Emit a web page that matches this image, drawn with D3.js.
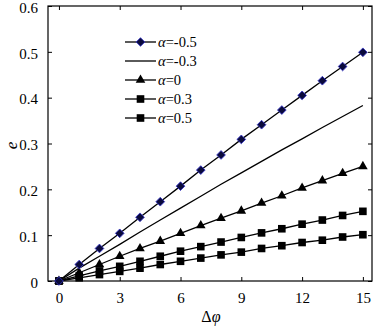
<!DOCTYPE html>
<html>
<head>
<meta charset="utf-8">
<script src="https://cdn.jsdelivr.net/npm/d3@7"></script>
<style>
  body { margin: 0; background: #fff; }
  svg text { font-family: "Liberation Serif", "Times New Roman", Times, serif; fill: #000; }
</style>
</head>
<body>
<div id="chart"></div>
<script>
// data
const dphi = [0, 1, 2, 3, 4, 5, 6, 7, 8, 9, 10, 11, 12, 13, 14, 15];
const eNeg05 = [0, 0.036, 0.071, 0.104, 0.139, 0.173, 0.207, 0.242, 0.275, 0.309, 0.341, 0.373, 0.405, 0.437, 0.468, 0.499];
const eNeg03 = [0, 0.028, 0.054, 0.080, 0.107, 0.133, 0.159, 0.185, 0.211, 0.236, 0.261, 0.286, 0.310, 0.335, 0.359, 0.383];
const eZero = [0, 0.018, 0.036, 0.054, 0.071, 0.087, 0.104, 0.121, 0.137, 0.153, 0.170, 0.186, 0.203, 0.219, 0.235, 0.250];
const ePos03 = [0, 0.011, 0.022, 0.032, 0.043, 0.054, 0.065, 0.075, 0.085, 0.095, 0.105, 0.114, 0.124, 0.133, 0.143, 0.152];
const ePos05 = [0, 0.007, 0.014, 0.021, 0.028, 0.036, 0.043, 0.050, 0.057, 0.063, 0.071, 0.077, 0.084, 0.089, 0.096, 0.101];
const seriesNames = ["-0.5", "-0.3", "0", "0.3", "0.5"];
const xTicks = [0, 3, 6, 9, 12, 15];
const yTicks = [0, 0.1, 0.2, 0.3, 0.4, 0.5, 0.6];

const width = 378;
const height = 326;
const margin = {top: 6, left: 48, right: 6, bottom: 45};

const svg = d3.select("#chart").append("svg")
    .attr("width", width)
    .attr("height", height);

const x = d3.scaleLinear()
    .domain([-0.54, 15.45])
    .range([margin.left, width - margin.right]);

const y = d3.scaleLinear()
    .domain([0, 0.6])
    .range([height - margin.bottom, margin.top]);

const plotW = width - margin.left - margin.right;
const plotH = height - margin.top - margin.bottom;

// frame
svg.append("rect")
    .attr("x", margin.left)
    .attr("y", margin.top)
    .attr("width", plotW)
    .attr("height", plotH)
    .attr("fill", "none")
    .attr("stroke", "#000")
    .attr("stroke-width", 1.2);

// axes, ticks pointing inward
const bottom = svg.append("g")
    .attr("transform", `translate(0,${height - margin.bottom})`)
    .call(d3.axisBottom(x).tickValues(xTicks).tickSizeInner(-4).tickSizeOuter(0).tickPadding(11));
const left = svg.append("g")
    .attr("transform", `translate(${margin.left},0)`)
    .call(d3.axisLeft(y).tickValues(yTicks).tickSizeInner(-4).tickSizeOuter(0).tickPadding(10)
        .tickFormat(d => d === 0 ? "0" : d3.format(".1f")(d)));
svg.append("g")
    .attr("transform", `translate(${width - margin.right},0)`)
    .call(d3.axisRight(y).tickValues(yTicks).tickSizeInner(-4).tickSizeOuter(0).tickFormat(""));
svg.append("g")
    .attr("transform", `translate(0,${margin.top})`)
    .call(d3.axisTop(x).tickValues(xTicks).tickSizeInner(-4).tickSizeOuter(0).tickFormat(""));

svg.selectAll(".domain").remove();
svg.selectAll(".tick line").attr("stroke", "#000");
bottom.selectAll("text").attr("font-size", 15);
left.selectAll("text").attr("font-size", 15).attr("dy", "0.42em");

// axis labels
svg.append("text")
    .attr("transform", `translate(17,${(margin.top + height - margin.bottom) / 2 + 2}) rotate(-90)`)
    .attr("text-anchor", "middle")
    .attr("font-size", 17)
    .attr("font-style", "italic")
    .text("e");

const xl = svg.append("text")
    .attr("x", x(7.5))
    .attr("y", 322)
    .attr("text-anchor", "middle")
    .attr("font-size", 16);
xl.append("tspan").text("Δ");
xl.append("tspan").attr("font-style", "italic").text("φ");

/*** series ***/
const series = [
    {name: seriesNames[0], values: eNeg05, marker: "diamond"},
    {name: seriesNames[1], values: eNeg03, marker: null},
    {name: seriesNames[2], values: eZero, marker: "triangle"},
    {name: seriesNames[3], values: ePos03, marker: "square"},
    {name: seriesNames[4], values: ePos05, marker: "square"}
];

const line = d3.line()
    .x((d, i) => x(dphi[i]))
    .y(d => y(d));

const symbolOf = {
    diamond: d3.symbol().type(d3.symbolSquare).size(38),
    triangle: d3.symbol().type(d3.symbolTriangle).size(40),
    square: d3.symbol().type(d3.symbolSquare).size(58)
};

function drawMarker(g, type, cx, cy) {
    const p = g.append("path")
        .attr("d", symbolOf[type]())
        .attr("transform", type === "diamond"
            ? `translate(${cx},${cy}) rotate(45)`
            : `translate(${cx},${cy})`);
    if (type === "diamond") {
        p.attr("fill", "#0a0a3c").attr("stroke", "#3535c8").attr("stroke-width", 0.8);
    } else {
        p.attr("fill", "#000");
    }
}

series.slice().reverse().forEach(s => {
    const g = svg.append("g");
    g.append("path")
        .datum(s.values)
        .attr("d", line)
        .attr("fill", "none")
        .attr("stroke", "#000")
        .attr("stroke-width", 1.3);
    if (s.marker) {
        s.values.forEach((v, i) => drawMarker(g, s.marker, x(dphi[i]), y(v)));
    }
});

/*** legend ***/
const legend = svg.append("g");
series.forEach((s, i) => {
    const ly = 42 + i * 19;
    legend.append("line")
        .attr("x1", 125).attr("x2", 156)
        .attr("y1", ly).attr("y2", ly)
        .attr("stroke", "#000").attr("stroke-width", 1.3);
    if (s.marker) drawMarker(legend, s.marker, 140.5, ly);
    const t = legend.append("text")
        .attr("x", 158)
        .attr("y", ly + 5)
        .attr("font-size", 14.5);
    t.append("tspan").attr("font-style", "italic").text("α");
    t.append("tspan").text("=" + s.name);
});
</script>
</body>
</html>
